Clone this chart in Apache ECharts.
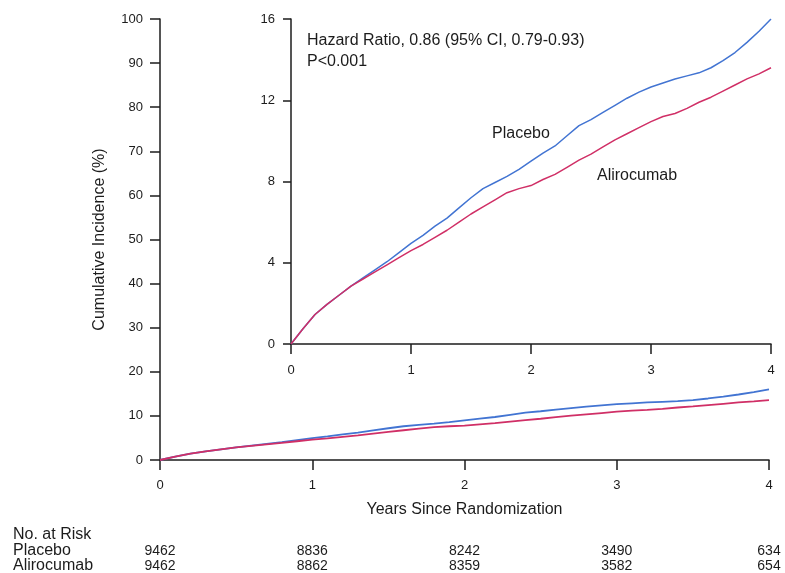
<!DOCTYPE html>
<html>
<head>
<meta charset="utf-8">
<script src="https://cdn.jsdelivr.net/npm/echarts@6/dist/echarts.min.js"></script>
<style>
  html, body { margin: 0; padding: 0; background: #fff; }
  #chart { width: 785px; height: 573px; }
</style>
</head>
<body>
<div id="chart"></div>
<script>
// Years since randomization (sampling grid for the curves)
const years = [0, 0.1, 0.2, 0.3, 0.4, 0.5, 0.6, 0.7, 0.8, 0.9, 1.0,
  1.1, 1.2, 1.3, 1.4, 1.5, 1.6, 1.7, 1.8, 1.9, 2.0,
  2.1, 2.2, 2.3, 2.4, 2.5, 2.6, 2.7, 2.8, 2.9, 3.0,
  3.1, 3.2, 3.3, 3.4, 3.5, 3.6, 3.7, 3.8, 3.9, 4.0];

// Cumulative incidence (%)
const placebo = [0, 0.75, 1.45, 1.95, 2.4, 2.85, 3.25, 3.65, 4.05, 4.5, 4.95,
  5.35, 5.8, 6.2, 6.7, 7.2, 7.65, 7.95, 8.25, 8.6, 9.0,
  9.4, 9.75, 10.25, 10.75, 11.05, 11.4, 11.75, 12.1, 12.4, 12.65,
  12.85, 13.05, 13.2, 13.35, 13.6, 13.95, 14.35, 14.85, 15.4, 16.0];

const alirocumab = [0, 0.75, 1.45, 1.95, 2.4, 2.85, 3.2, 3.55, 3.9, 4.25, 4.6,
  4.9, 5.25, 5.6, 6.0, 6.4, 6.75, 7.1, 7.45, 7.65, 7.8,
  8.1, 8.35, 8.7, 9.05, 9.35, 9.7, 10.05, 10.35, 10.65, 10.95,
  11.2, 11.35, 11.6, 11.9, 12.15, 12.45, 12.75, 13.05, 13.3, 13.6];

// Number at risk table
const riskYears = [0, 1, 2, 3, 4];
const riskPlacebo = [9462, 8836, 8242, 3490, 634];
const riskAlirocumab = [9462, 8862, 8359, 3582, 654];

const BLUE = '#4274d2';
const RED = '#d02f66';
const INK = '#1c1c1c';
const FONT = '"Liberation Sans", Arial, sans-serif';

const pairs = (ys) => years.map((t, i) => [t, ys[i]]);

function axis(extra, tickLen, labelMargin) {
  return Object.assign({
    type: 'value',
    axisLine: { show: true, lineStyle: { color: INK, width: 1.5 } },
    axisTick: { show: true, inside: false, length: tickLen, lineStyle: { color: INK, width: 1.5 } },
    splitLine: { show: false },
    axisLabel: { color: INK, fontFamily: FONT, fontSize: 13, margin: labelMargin }
  }, extra);
}

const chart = echarts.init(document.getElementById('chart'), null, { renderer: 'canvas' });

chart.setOption({
  animation: false,
  backgroundColor: '#fff',
  grid: [
    { left: 160, top: 19, width: 609, height: 441 },
    { left: 291, top: 19, width: 480, height: 325 }
  ],
  xAxis: [
    axis({
      gridIndex: 0, min: 0, max: 4, interval: 1,
      name: 'Years Since Randomization', nameLocation: 'middle', nameGap: 42,
      nameTextStyle: { color: INK, fontFamily: FONT, fontSize: 16 }
    }, 10, 19),
    axis({ gridIndex: 1, min: 0, max: 4, interval: 1 }, 10, 20)
  ],
  yAxis: [
    axis({
      gridIndex: 0, min: 0, max: 100, interval: 10,
      name: 'Cumulative Incidence (%)', nameLocation: 'middle', nameGap: 52,
      nameTextStyle: { color: INK, fontFamily: FONT, fontSize: 16 }
    }, 10, 17),
    axis({ gridIndex: 1, min: 0, max: 16, interval: 4 }, 8, 16)
  ],
  series: [
    { name: 'Placebo', type: 'line', xAxisIndex: 0, yAxisIndex: 0, data: pairs(placebo),
      showSymbol: false, lineStyle: { color: BLUE, width: 1.8 } },
    { name: 'Alirocumab', type: 'line', xAxisIndex: 0, yAxisIndex: 0, data: pairs(alirocumab),
      showSymbol: false, lineStyle: { color: RED, width: 1.8 } },
    { name: 'Placebo', type: 'line', xAxisIndex: 1, yAxisIndex: 1, data: pairs(placebo),
      showSymbol: false, lineStyle: { color: BLUE, width: 1.5 } },
    { name: 'Alirocumab', type: 'line', xAxisIndex: 1, yAxisIndex: 1, data: pairs(alirocumab),
      showSymbol: false, lineStyle: { color: RED, width: 1.5 } }
  ]
});

// Annotations and the number-at-risk table
const txt = (x, y, text, size, align) => ({
  type: 'text', x: x, y: y,
  style: { text: text, fill: INK, font: size + 'px ' + FONT, textAlign: align || 'left', textVerticalAlign: 'middle' }
});

const elements = [
  txt(307, 41, 'Hazard Ratio, 0.86 (95% CI, 0.79-0.93)', 16),
  txt(307, 62, 'P<0.001', 16),
  txt(492, 134, 'Placebo', 16),
  txt(597, 176, 'Alirocumab', 16),
  txt(13, 535, 'No. at Risk', 16),
  txt(13, 551, 'Placebo', 16),
  txt(13, 566, 'Alirocumab', 16)
];
riskYears.forEach((yr, i) => {
  const px = chart.convertToPixel({ xAxisIndex: 0 }, yr);
  elements.push(txt(px, 551, String(riskPlacebo[i]), 14, 'center'));
  elements.push(txt(px, 566, String(riskAlirocumab[i]), 14, 'center'));
});
chart.setOption({ graphic: { elements: elements } });
</script>
</body>
</html>
